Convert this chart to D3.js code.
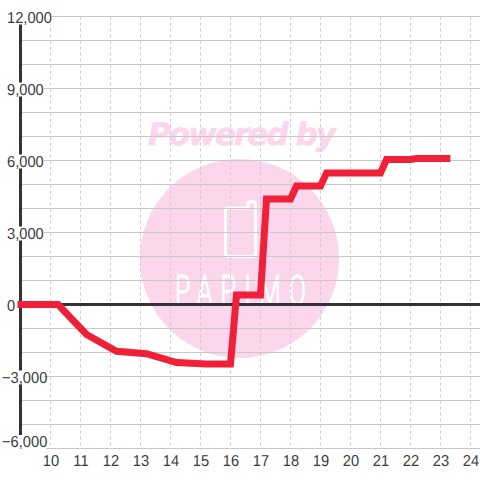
<!DOCTYPE html>
<html><head><meta charset="utf-8">
<script src="https://cdn.jsdelivr.net/npm/d3@7"></script>
<style>html,body{margin:0;padding:0;background:#fff}svg{display:block}text{font-family:"Liberation Sans",Arial,sans-serif;text-rendering:geometricPrecision}</style>
</head><body><svg id="c" width="480" height="480"></svg>
<script>
const xTicks=[10,11,12,13,14,15,16,17,18,19,20,21,22,23,24];
const yLabelTicks=[12000,9000,6000,3000,0,-3000,-6000];
const yGridTicks=d3.range(-6000,12001,1000);
const hours=[8.9,10.25,11.2,12.2,13.2,14.2,15.2,16,16.2,17,17.2,18,18.2,19,19.2,21,21.2,22,22.2,23.33];
const values=[0,0,-1250,-1950,-2050,-2420,-2480,-2480,400,400,4400,4400,4940,4940,5480,5480,6040,6040,6080,6080];

const svg=d3.select("#c");
const x=d3.scaleLinear().domain([10,24]).range([50.5,470.5]);
const y=d3.scaleLinear().domain([-6000,12000]).range([448.5,16.5]);
const fmt=d3.format(",");
const pink="#fbd6ec";

// watermark
const wm=svg.append("g");
wm.append("circle").attr("cx",239.5).attr("cy",258.5).attr("r",99.5).attr("fill",pink);
wm.append("text").attr("x",242).attr("y",144.5).attr("text-anchor","middle")
  .attr("font-size",31).attr("font-weight","bold").attr("font-style","italic")
  .attr("fill",pink).attr("stroke",pink).attr("stroke-width",.6).style("font-family","'DejaVu Sans'").attr("textLength",188).text("Powered by");
wm.append("path").attr("d","M228 208H248V205Q248 201.5 252 201.5Q255.5 201.5 255.5 205V253Q255.5 256.5 252 256.5H229Q225.5 256.5 225.5 253V211Q225.5 208 228 208Z")
  .attr("fill","none").attr("stroke","#fff").attr("stroke-width",3);
wm.append("text").attr("transform","translate(175,305) scale(.6,1)")
  .attr("font-size",42).attr("font-weight",300).attr("fill","#fff").attr("stroke","#fff").attr("stroke-width",1.2)
  .style("font-family","Roboto").attr("textLength",218).attr("lengthAdjust","spacing").text("PAPIMO");

// grid
const grid=svg.append("g");
grid.selectAll("line.h").data(yGridTicks).join("line").attr("class","h")
  .attr("x1",d=>d===-6000?46:20).attr("x2",480)
  .attr("y1",d=>y(d)).attr("y2",d=>y(d))
  .attr("stroke","#c8c8c8").attr("stroke-width",1);
grid.selectAll("line.v").data(xTicks).join("line").attr("class","v")
  .attr("x1",d=>x(d)).attr("x2",d=>x(d)).attr("y1",y(12000)).attr("y2",y(-6000))
  .attr("stroke","#ccc").attr("stroke-width",1).attr("stroke-dasharray","3 3");

// axes
svg.append("line").attr("x1",20.5).attr("x2",20.5).attr("y1",16).attr("y2",448)
  .attr("stroke","#333").attr("stroke-width",3);
svg.append("line").attr("x1",20).attr("x2",480).attr("y1",y(0)).attr("y2",y(0))
  .attr("stroke","#333").attr("stroke-width",3);

// labels (white plate under each label breaks the axis and the gridline)
const base=d=>d===-6000?447:y(d)+6;
const left=d=>d<0?2:7;
const yl=svg.append("g").selectAll("g").data(yLabelTicks).join("g");
yl.filter(d=>d!==0).append("rect").attr("x",2).attr("y",d=>base(d)-12)
  .attr("width",d=>Math.abs(d)>=10000?50:42).attr("height",14).attr("fill","#fff");

// line
svg.append("path").datum(hours.map((h,i)=>[h,values[i]]))
  .attr("d",d3.line().x(d=>x(d[0])).y(d=>y(d[1])))
  .attr("fill","none").attr("stroke","#ef2038").attr("stroke-width",7).attr("stroke-linejoin","miter");

yl.append("text").attr("transform",d=>`translate(${left(d)},${base(d)}) scale(.93,1)`)
  .attr("font-size",15.8).attr("fill","#3c3c3c").text(fmt);
svg.append("g").selectAll("text").data(xTicks).join("text")
  .attr("transform",d=>`translate(${x(d)+.5},466) scale(.93,1)`)
  .attr("text-anchor","middle").attr("font-size",15.8).attr("fill","#3c3c3c").text(d=>d);
</script></body></html>
